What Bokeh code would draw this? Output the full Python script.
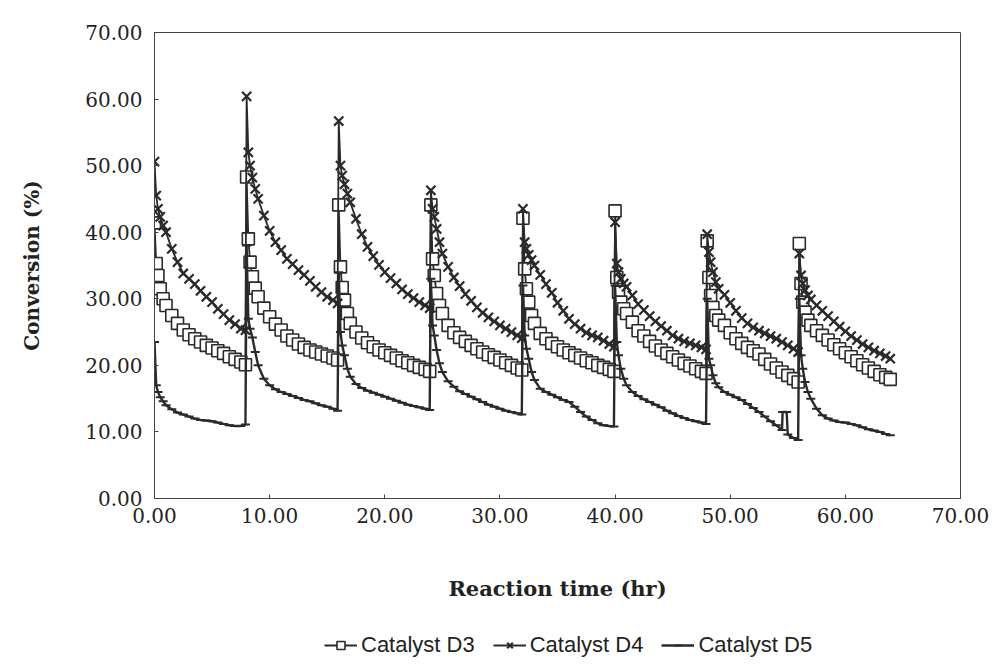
from bokeh.plotting import figure
from bokeh.layouts import column
from bokeh.models import Range1d, FixedTicker, NumeralTickFormatter, Legend, LegendItem, ColumnDataSource
from bokeh.embed import file_html
from bokeh.resources import INLINE

# ---- data ----
cycle_starts = [0, 8, 16, 24, 32, 40, 48, 56]
offsets = [0, 0.15, 0.3, 0.5, 0.75, 1.0, 1.5, 2.0, 2.5, 3.0, 3.5, 4.0, 4.5, 5.0, 5.5, 6.0, 6.5, 7.0, 7.5, 7.9]

d3_c1 = [41.4, 35.3, 33.5, 31.5, 30.0, 29.0, 27.5, 26.3, 25.3, 24.6, 24.0, 23.5, 23.0, 22.6, 22.2, 21.8, 21.3, 20.9, 20.5, 20.1]
d3_c2 = [48.3, 39.0, 35.5, 33.3, 31.6, 30.3, 28.6, 27.3, 26.2, 25.3, 24.4, 23.8, 23.2, 22.7, 22.3, 22.0, 21.7, 21.4, 21.1, 20.8]
d3_c3 = [44.1, 34.8, 31.7, 29.8, 27.8, 26.3, 25.0, 24.1, 23.4, 22.8, 22.3, 21.9, 21.5, 21.1, 20.7, 20.4, 20.0, 19.7, 19.4, 19.1]
d3_c4 = [44.1, 36.0, 33.5, 30.8, 29.0, 27.8, 26.0, 24.9, 24.2, 23.6, 23.0, 22.5, 22.0, 21.6, 21.2, 20.8, 20.4, 20.0, 19.6, 19.3]
d3_c5 = [42.1, 34.5, 31.5, 29.5, 27.5, 26.3, 24.8, 24.0, 23.3, 22.8, 22.3, 21.9, 21.5, 21.1, 20.7, 20.4, 20.0, 19.7, 19.4, 19.1]
d3_c6 = [43.2, 33.2, 31.0, 29.5, 28.5, 27.8, 26.5, 25.2, 24.4, 23.6, 22.9, 22.3, 21.8, 21.3, 20.8, 20.3, 19.9, 19.5, 19.1, 18.8]
d3_c7 = [38.7, 33.2, 30.5, 28.7, 27.5, 26.8, 26.0, 24.9, 24.0, 23.3, 22.7, 22.2, 21.7, 20.9, 20.2, 19.6, 19.0, 18.5, 18.0, 17.5]
d3_c8 = [38.3, 32.3, 29.5, 28.0, 26.8, 26.0, 25.2, 24.5, 23.8, 23.1, 22.5, 21.9, 21.3, 20.7, 20.1, 19.6, 19.1, 18.6, 18.2, 17.9]

d4_c1 = [50.6, 45.5, 43.5, 42.3, 41.0, 40.0, 37.5, 35.5, 33.8, 33.0, 32.2, 31.2, 30.3, 29.5, 28.5, 27.7, 26.8, 26.2, 25.5, 25.3]
d4_c2 = [60.4, 52.0, 50.0, 48.2, 46.5, 45.0, 42.5, 40.2, 38.5, 37.3, 36.0, 35.2, 34.3, 33.6, 32.7, 31.8, 31.0, 30.3, 29.8, 29.3]
d4_c3 = [56.7, 50.0, 48.5, 47.2, 45.8, 44.5, 42.0, 39.7, 37.8, 36.4, 35.1, 34.0, 33.1, 32.3, 31.4, 30.7, 30.1, 29.5, 29.0, 28.6]
d4_c4 = [46.3, 43.5, 42.3, 40.5, 38.5, 36.8, 34.8, 33.2, 31.9, 30.7, 29.7, 28.7, 27.9, 27.2, 26.6, 26.0, 25.5, 25.0, 24.5, 24.1]
d4_c5 = [43.5, 38.5, 37.5, 36.6, 35.8, 35.0, 33.6, 32.2, 30.9, 29.4, 28.2, 27.0, 26.2, 25.5, 24.9, 24.5, 24.2, 23.7, 23.2, 22.8]
d4_c6 = [41.5, 35.3, 34.0, 33.0, 32.3, 31.8, 30.5, 29.2, 28.3, 27.4, 26.6, 25.9, 25.2, 24.5, 24.0, 23.6, 23.3, 23.0, 22.7, 22.4]
d4_c7 = [39.7, 37.0, 35.5, 34.0, 32.5, 31.5, 30.6, 29.4, 28.2, 27.1, 26.3, 25.7, 25.2, 24.8, 24.4, 24.0, 23.5, 23.0, 22.5, 22.0]
d4_c8 = [36.8, 33.5, 32.3, 31.3, 30.5, 29.9, 29.0, 28.2, 27.4, 26.6, 25.8, 25.1, 24.4, 23.8, 23.2, 22.7, 22.2, 21.8, 21.4, 21.0]

d5_c1 = [23.5, 17.0, 16.0, 15.2, 14.6, 14.0, 13.4, 12.9, 12.6, 12.3, 12.0, 11.8, 11.7, 11.6, 11.4, 11.2, 11.0, 10.9, 10.9, 11.1]
d5_c2 = [38.0, 27.0, 25.5, 24.2, 22.0, 20.0, 18.0, 17.0, 16.4, 16.0, 15.7, 15.4, 15.1, 14.8, 14.6, 14.3, 14.0, 13.8, 13.5, 13.2]
d5_c3 = [34.0, 25.0, 23.0, 21.5, 19.5, 18.3, 17.2, 16.6, 16.2, 15.9, 15.6, 15.3, 15.0, 14.7, 14.4, 14.1, 13.9, 13.7, 13.5, 13.3]
d5_c4 = [33.0, 26.0, 24.5, 22.3, 20.3, 19.0, 17.6, 16.8, 16.1, 15.7, 15.3, 14.9, 14.5, 14.1, 13.8, 13.5, 13.2, 13.0, 12.8, 12.6]
d5_c5 = [32.0, 24.5, 22.5, 21.0, 19.0, 17.8, 16.5, 16.0, 15.6, 15.2, 14.8, 14.5, 13.8, 13.0, 12.3, 11.8, 11.3, 11.0, 10.9, 10.8]
d5_c6 = [32.0, 23.5, 21.5, 19.5, 18.0, 17.0, 16.0, 15.4, 14.9, 14.5, 14.1, 13.7, 13.2, 12.8, 12.4, 12.1, 11.8, 11.6, 11.4, 11.2]
d5_c7 = [30.0, 21.0, 20.0, 18.5, 17.3, 16.7, 16.0, 15.6, 15.2, 14.8, 14.2, 13.6, 13.0, 12.3, 11.6, 11.0, 10.3, 9.6, 9.1, 8.8]
d5_c8 = [30.0, 21.5, 19.5, 17.5, 16.0, 15.0, 13.5, 12.5, 12.0, 11.7, 11.5, 11.4, 11.2, 11.0, 10.7, 10.4, 10.2, 10.0, 9.7, 9.5]
d5_extra_t = [54.55, 54.9]
d5_extra_v = [13.0, 13.0]

axis_ticks = [0, 10, 20, 30, 40, 50, 60, 70]
names = ["Catalyst D3", "Catalyst D4", "Catalyst D5"]


def build(cycles, extra_t=(), extra_v=()):
    pts = [(s + o, v) for s, vals in zip(cycle_starts, cycles) for o, v in zip(offsets, vals)]
    pts += list(zip(extra_t, extra_v))
    pts.sort(key=lambda a: a[0])
    return ColumnDataSource(dict(t=[a[0] for a in pts], v=[a[1] for a in pts]))


src3 = build([d3_c1, d3_c2, d3_c3, d3_c4, d3_c5, d3_c6, d3_c7, d3_c8])
src4 = build([d4_c1, d4_c2, d4_c3, d4_c4, d4_c5, d4_c6, d4_c7, d4_c8])
src5 = build([d5_c1, d5_c2, d5_c3, d5_c4, d5_c5, d5_c6, d5_c7, d5_c8], d5_extra_t, d5_extra_v)

ink = "#2a2a2a"
styles = [
    dict(line_width=1.8, marker="square", size=12, fill_color="white", mlw=1.6),
    dict(line_width=1.8, marker="x", size=13, fill_color=None, mlw=2.2),
    dict(line_width=2.4, marker="dash", size=9, fill_color=None, mlw=2.0),
]

p = figure(frame_width=806, frame_height=466, x_range=Range1d(0, 70), y_range=Range1d(0, 70),
           output_backend="svg", toolbar_location=None,
           min_border_left=154, min_border_right=35, min_border_top=32, min_border_bottom=127)
p.background_fill_color = "white"
p.border_fill_color = "white"
p.grid.visible = False
p.outline_line_color = "#444444"
p.outline_line_width = 1

for src, st in zip([src3, src4, src5], styles):
    p.line("t", "v", source=src, line_color=ink, line_width=st["line_width"])
    p.scatter("t", "v", source=src, marker=st["marker"], size=st["size"],
              fill_color=st["fill_color"], line_color=ink, line_width=st["mlw"])

for ax in (p.xaxis[0], p.yaxis[0]):
    ax.ticker = FixedTicker(ticks=axis_ticks)
    ax.formatter = NumeralTickFormatter(format="0.00")
    ax.axis_line_color = "#444444"
    ax.major_tick_line_color = "#444444"
    ax.major_tick_in = 4
    ax.major_tick_out = 0
    ax.minor_tick_line_color = None
    ax.major_label_text_font = "DejaVu Serif"
    ax.major_label_text_font_size = "20px"
    ax.major_label_text_color = "#222222"
    ax.axis_label_text_font = "DejaVu Serif"
    ax.axis_label_text_font_style = "bold"
    ax.axis_label_text_color = "#222222"

p.xaxis.axis_label = "Reaction time (hr)"
p.xaxis.axis_label_text_font_size = "21px"
p.xaxis.major_label_standoff = 9
p.xaxis.axis_label_standoff = 50

p.yaxis.axis_label = "Conversion (%)"
p.yaxis.axis_label_text_font_size = "20px"
p.yaxis.major_label_standoff = 12
p.yaxis.axis_label_standoff = 38

# ---- legend strip below the chart (keys only; their sample point lies off-range) ----
pl = figure(width=995, height=39, x_range=Range1d(0, 1), y_range=Range1d(0, 1),
            output_backend="svg", toolbar_location=None,
            x_axis_location=None, y_axis_location=None, min_border=0)
pl.grid.visible = False
pl.outline_line_color = None
pl.background_fill_color = "white"
pl.border_fill_color = "white"
items = []
for name, st in zip(names, styles):
    lr = pl.line([-5, -4], [-5, -4], line_color=ink, line_width=st["line_width"])
    mr = pl.scatter([-5], [-5], marker=st["marker"], size=st["size"],
                    fill_color=st["fill_color"], line_color=ink, line_width=st["mlw"])
    items.append(LegendItem(label=name, renderers=[lr, mr]))
legend = Legend(items=items, orientation="horizontal", location=(170, 6),
                border_line_color=None, background_fill_alpha=0,
                label_text_font="Liberation Sans", label_text_font_size="22px",
                label_text_color="#222222",
                glyph_width=33, glyph_height=20, label_standoff=4, spacing=18,
                padding=2, margin=0)
pl.add_layout(legend)

layout = column(p, pl, spacing=0)
open("out.html", "w").write(file_html(layout, INLINE))
